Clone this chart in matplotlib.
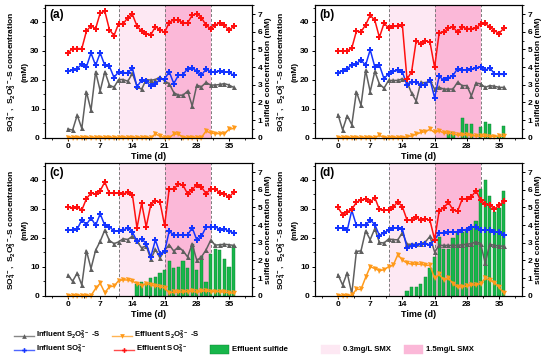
import numpy as np
import matplotlib
matplotlib.use('Agg')
import matplotlib.pyplot as plt
from matplotlib.patches import Rectangle
from matplotlib.ticker import MultipleLocator

plt.rcParams['font.family'] = ['Liberation Sans', 'DejaVu Sans']
plt.rcParams['font.weight'] = 'bold'
plt.rcParams['mathtext.fontset'] = 'custom'
plt.rcParams['mathtext.rm'] = 'Liberation Sans:bold'
plt.rcParams['mathtext.it'] = 'Liberation Sans:bold:italic'
plt.rcParams['mathtext.bf'] = 'Liberation Sans:bold'
plt.rcParams['axes.linewidth'] = 0.8

days = np.arange(37)

# panel (a)
a_inf_s2o3 = [3.0, 2.6, 7.8, 3.2, 15.9, 9.5, 22.8, 16.2, 22.8, 18.2, 17.4, 20.1, 20.1, 19.5, 22.2, 17.8, 16.7, 20.1, 19.9,
              20.1, 21.0, 19.6, 18.7, 15.6, 14.7, 14.7, 16.1, 11.0, 18.2, 17.6, 19.1, 18.2, 18.2, 18.4, 18.7, 18.2, 17.4]
a_eff_s2o3 = [0, 0, 0, 0, 0, 0, 0, 0, 0, 0, 0, 0, 0, 0, 0, 0, 0, 0, 0,
              1.3, 0.5, 0, 0, 1.2, 1.3, 0, 0, 0, 0, 0, 2.3, 1.6, 1.4, 1.4, 1.4, 2.9, 3.2]
a_inf_so4 = [23.1, 23.3, 23.9, 25.4, 24.5, 29.3, 25.0, 29.3, 25.0, 24.7, 20.8, 22.8, 22.5, 22.4, 24.1, 17.6, 19.9, 19.5, 17.8,
             18.5, 20.2, 20.3, 22.8, 18.7, 21.6, 21.8, 23.9, 24.1, 23.0, 21.6, 23.7, 22.8, 22.8, 23.0, 22.8, 22.6, 21.6]
a_eff_so4 = [29.3, 30.8, 30.8, 30.8, 36.8, 38.7, 37.7, 43.1, 43.7, 37.4, 35.3, 39.4, 39.4, 41.5, 42.6, 38.6, 36.8, 36.0, 35.6,
             38.3, 37.4, 36.4, 39.8, 40.8, 40.6, 39.7, 39.7, 42.3, 42.9, 41.5, 38.9, 37.7, 38.9, 39.7, 38.9, 37.1, 38.5]
a_sulfide = [0] * 37

# panel (b)
b_inf_s2o3 = [8.0, 2.7, 7.6, 4.5, 15.9, 11.2, 23.3, 15.9, 22.9, 18.6, 17.1, 19.8, 19.8, 19.8, 20.4, 19.2, 15.4, 12.7, 19.2,
              18.9, 19.8, 16.8, 17.4, 16.8, 16.8, 16.8, 19.2, 18.0, 18.0, 14.5, 18.9, 18.6, 17.4, 18.0, 17.8, 17.4, 17.4]
b_eff_s2o3 = [0, 0, 0, 0, 0, 0, 0, 0, 0, 0.8, 0, 0, 0, 0, 0, 0.3, 0.6, 1.2, 1.8,
              2.1, 2.9, 1.8, 2.4, 1.6, 1.6, 1.3, 0.9, 0.9, 1.1, 0.7, 0.6, 0.5, 0.5, 0.4, 0.4, 0.5, 0.5]
b_inf_so4 = [22.5, 23.1, 23.8, 25.3, 25.6, 26.8, 25.1, 30.4, 24.5, 25.1, 20.4, 22.1, 22.9, 23.3, 22.7, 18.2, 19.2, 19.2, 18.2,
             18.2, 20.1, 13.8, 21.3, 19.8, 20.6, 21.5, 23.9, 23.3, 23.5, 23.6, 24.1, 24.5, 23.3, 24.2, 22.1, 21.9, 21.9]
b_eff_so4 = [30.0, 30.0, 30.0, 31.0, 36.8, 36.6, 39.0, 42.3, 40.6, 34.7, 39.5, 38.0, 38.5, 38.5, 38.8, 20.2, 22.8, 33.5, 32.3,
             33.5, 33.0, 24.3, 36.3, 36.5, 37.8, 38.3, 36.4, 38.3, 37.7, 37.7, 37.8, 39.3, 39.5, 38.3, 37.0, 36.0, 37.8]
b_sulfide = [0, 0, 0, 0, 0, 0, 0, 0, 0, 0, 0, 0, 0, 0, 0, 0, 0, 0, 0,
             0, 0, 0, 0, 0, 0.28, 0.3, 0, 1.13, 0.76, 0.78, 0, 0.6, 0.88, 0.76, 0, 0.12, 0.68]

# panel (c)
c_inf_s2o3 = [7.1, 5.0, 7.8, 3.7, 15.6, 9.4, 15.7, 18.8, 22.7, 19.1, 18.0, 18.6, 19.7, 19.4, 20.6, 18.8, 16.5, 17.3, 12.6,
              16.0, 13.0, 15.7, 17.6, 15.4, 16.9, 15.5, 13.4, 17.9, 12.2, 13.4, 15.8, 19.1, 17.5, 17.6, 17.8, 17.6, 17.4]
c_eff_s2o3 = [0, 0, 0, 0, 0, 0, 2.5, 4.3, 1.0, 3.1, 3.3, 5.2, 5.5, 5.4, 5.0, 4.2, 3.5, 4.2, 3.7,
              3.3, 3.1, 2.6, 1.0, 1.2, 1.2, 1.3, 1.4, 1.5, 1.2, 1.5, 1.7, 1.4, 1.4, 1.4, 1.2, 1.0, 0.9]
c_inf_so4 = [22.6, 22.8, 23.0, 26.2, 24.6, 26.9, 24.3, 28.3, 24.3, 23.9, 22.3, 22.3, 22.6, 23.5, 22.0, 18.8, 19.7, 18.0, 13.4,
             19.3, 14.5, 15.3, 22.3, 21.0, 21.0, 21.0, 21.0, 23.5, 19.3, 20.5, 23.7, 23.6, 23.9, 22.8, 23.1, 22.3, 21.7]
c_eff_so4 = [30.6, 30.4, 30.6, 29.6, 33.5, 35.5, 35.1, 36.3, 39.3, 35.4, 35.4, 35.4, 35.2, 35.7, 34.9, 23.4, 32.0, 23.8, 31.5,
             32.9, 32.3, 24.3, 36.9, 36.9, 38.6, 38.2, 35.2, 36.6, 38.4, 37.6, 35.3, 36.8, 36.9, 35.6, 35.3, 34.0, 35.8]
c_sulfide = [0, 0, 0, 0, 0, 0, 0, 0, 0, 0, 0, 0, 0, 0, 0, 0.65, 0.8, 0.7, 1.0,
             1.08, 1.27, 1.46, 1.97, 1.56, 1.61, 1.97, 1.56, 2.95, 1.46, 2.26, 0.8, 2.37, 2.64, 2.56, 2.07, 1.65, 2.82]

# panel (d)
d_inf_s2o3 = [7.3, 3.7, 7.9, 0.7, 15.3, 15.5, 22.4, 19.4, 23.2, 18.4, 18.2, 19.6, 19.4, 19.3, 21.8, 17.8, 17.8, 17.8, 18.0,
              18.6, 20.5, 15.1, 17.4, 17.4, 17.4, 17.4, 17.4, 17.6, 17.8, 18.0, 18.6, 18.0, 11.3, 17.8, 17.4, 17.2, 17.1]
d_eff_s2o3 = [0, 0, 0, 0.2, 2.2, 2.2, 6.3, 10.0, 9.4, 8.6, 9.0, 10.0, 10.5, 14.2, 12.3, 11.3, 10.9, 10.9, 10.9,
              10.5, 10.5, 6.0, 7.4, 5.4, 6.0, 4.2, 2.9, 3.1, 3.3, 3.7, 3.7, 4.2, 6.0, 5.4, 4.5, 2.9, 1.0]
d_inf_so4 = [23.4, 23.5, 22.6, 29.5, 24.3, 24.3, 24.3, 26.2, 24.6, 20.8, 21.8, 22.6, 23.4, 23.4, 23.1, 16.5, 17.1, 17.4, 17.8,
             18.0, 17.6, 19.4, 21.6, 21.6, 22.0, 22.0, 22.0, 22.6, 22.8, 23.7, 23.7, 22.8, 22.6, 22.8, 22.0, 22.0, 21.1]
d_eff_so4 = [30.5, 28.0, 29.0, 29.8, 32.3, 33.1, 33.4, 32.3, 33.9, 29.8, 29.5, 29.7, 30.6, 32.5, 30.7, 26.2, 26.0, 27.2, 26.0,
             26.6, 26.0, 19.4, 29.4, 30.4, 32.3, 29.7, 29.2, 33.4, 33.4, 34.2, 36.3, 33.0, 31.7, 31.5, 30.0, 31.2, 32.6]
d_sulfide = [0, 0, 0, 0, 0, 0, 0, 0, 0, 0, 0, 0, 0, 0, 0, 0.27, 0.48, 0.48, 0.67,
             1.05, 1.55, 2.2, 3.34, 2.63, 2.63, 3.24, 3.6, 3.6, 3.76, 3.95, 4.24, 6.05, 6.53, 5.67, 4.72, 4.96, 5.9]

phase_edges = [11, 21, 31]
time_ticks = [0, 7, 14, 21, 28, 35]

c_gray = '#5f5f5f'
c_orange = '#ff9a1a'
c_blue = '#1434ff'
c_red = '#ff1010'
c_green = '#17b64a'
c_green_edge = '#0c7f2e'
c_light = '#fde8f3'
c_hot = '#fbb8d8'

fs = 6

fig = plt.figure(figsize=(5.55, 3.59), dpi=100)
W, H = 555.0, 359.0


def draw_panel(left_px, top_px, tag, inf_s2o3, eff_s2o3, inf_so4, eff_so4, sulfide):
    rect = [left_px / W, 1 - (top_px + 132.5) / H, 207 / W, 132.5 / H]
    ax = fig.add_axes(rect)
    ax2 = ax.twinx()
    ax.set_zorder(2)
    ax2.set_zorder(1)
    ax.patch.set_visible(False)

    ax2.axvspan(phase_edges[0], phase_edges[1], color=c_light, lw=0, zorder=0)
    ax2.axvspan(phase_edges[1], phase_edges[2], color=c_hot, lw=0, zorder=0)
    for xv in phase_edges:
        ax2.axvline(xv, color='#7a7a7a', lw=0.7, ls=(0, (3, 2)), zorder=1)

    s = np.array(sulfide, dtype=float)
    m = s > 0
    ax2.bar(days[m], s[m], width=0.72, color=c_green, edgecolor=c_green_edge, lw=0.3, zorder=2)

    ax.plot(days, inf_s2o3, color=c_gray, marker='^', ms=3.6, mew=0, lw=1.1)
    ax.plot(days, eff_s2o3, color=c_orange, marker='v', ms=3.6, mew=0, lw=1.1, clip_on=False)
    ax.plot(days, inf_so4, color=c_blue, marker='P', ms=4.3, mew=0, lw=1.1)
    ax.plot(days, eff_so4, color=c_red, marker='P', ms=4.3, mew=0, lw=1.1)

    ax.set_xlim(-5, 40)
    ax.set_ylim(0, 45.8)
    ax2.set_ylim(0, 7.5)
    ax.set_xticks(time_ticks)
    ax.xaxis.set_minor_locator(MultipleLocator(3.5))
    ax.yaxis.set_major_locator(MultipleLocator(10))
    ax.yaxis.set_minor_locator(MultipleLocator(5))
    ax2.yaxis.set_major_locator(MultipleLocator(1))
    ax2.yaxis.set_minor_locator(MultipleLocator(0.5))
    for a in (ax, ax2):
        a.tick_params(which='major', direction='out', length=2.5, width=0.7, labelsize=fs, pad=1.5)
        a.tick_params(which='minor', direction='out', length=1.5, width=0.6)

    ax.set_xlabel('Time (d)', fontsize=fs + 0.5, fontweight='bold', labelpad=1.5)
    ax.set_ylabel('SO$_4^{2-}$,  S$_2$O$_3^{2-}$-S concentration\n(mM)', fontsize=fs, fontweight='bold',
                  labelpad=1, linespacing=1.5)
    ax2.set_ylabel('sulfide concentration (mM)', fontsize=fs, fontweight='bold', labelpad=2)
    ax.text(0.02, 0.9, tag, transform=ax.transAxes, fontsize=8.5, fontweight='bold')


draw_panel(45, 5.2, '(a)', a_inf_s2o3, a_eff_s2o3, a_inf_so4, a_eff_so4, a_sulfide)
draw_panel(315, 5.2, '(b)', b_inf_s2o3, b_eff_s2o3, b_inf_so4, b_eff_so4, b_sulfide)
draw_panel(45, 163.2, '(c)', c_inf_s2o3, c_eff_s2o3, c_inf_so4, c_eff_so4, c_sulfide)
draw_panel(315, 163.2, '(d)', d_inf_s2o3, d_eff_s2o3, d_inf_so4, d_eff_so4, d_sulfide)

# legend drawn in pixel coordinates at the bottom
lg = fig.add_axes([0, 0, 1, 1], zorder=5)
lg.set_xlim(0, W)
lg.set_ylim(H, 0)
lg.axis('off')
lfs = 5.6
row1, row2 = 335.5, 349.5
line_items = [
    (14, row1, c_gray, '^', 'Influent S$_2$O$_3^{2-}$ -S'),
    (112, row1, c_orange, 'v', 'Effluent S$_2$O$_3^{2-}$ -S'),
    (14, row2, c_blue, 'P', 'Influent SO$_4^{2-}$'),
    (114, row2, c_red, 'P', 'Effluent SO$_4^{2-}$'),
]
for x0, y0, col, mk, lab in line_items:
    lg.plot([x0, x0 + 20], [y0, y0], color=col, lw=1.0, alpha=0.75)
    lg.plot([x0 + 10], [y0], color=col, marker=mk, ms=3.4, mew=0)
    lg.text(x0 + 22, y0, lab, fontsize=lfs, fontweight='bold', va='center', ha='left')

patch_items = [
    (210, c_green, c_green_edge, 'Effluent sulfide'),
    (321, c_light, c_light, '0.3mg/L SMX'),
    (404, c_hot, c_hot, '1.5mg/L SMX'),
]
for x0, fc, ec, lab in patch_items:
    lg.add_patch(Rectangle((x0, row2 - 4.5), 19, 9, facecolor=fc, edgecolor=ec, lw=0.3))
    lg.text(x0 + 22, row2, lab, fontsize=lfs, fontweight='bold', va='center', ha='left')

fig.savefig('out.png', dpi=100)
